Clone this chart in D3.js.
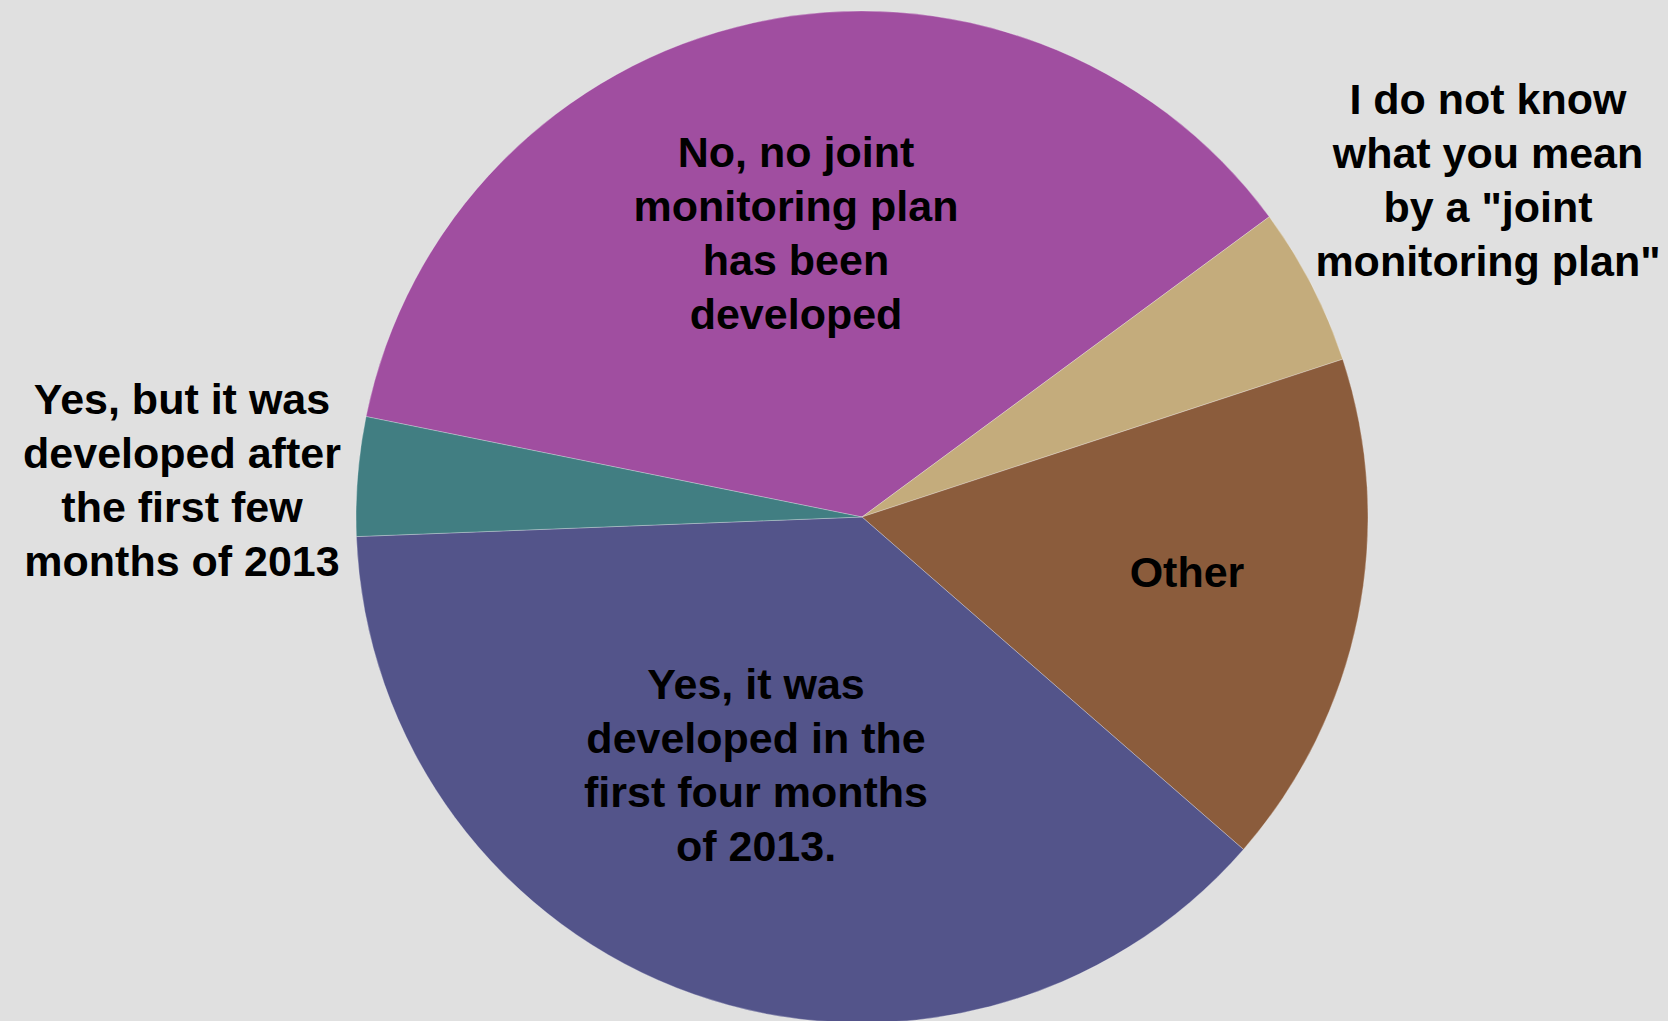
<!DOCTYPE html>
<html>
<head>
    <meta charset="utf-8">
    <style>
        body{
            margin: 0;
            background-color: #e0e0e0;
        }
        svg{
            display: block;
        }
        .labels text{
            font-family: "Liberation Sans", Arial, sans-serif;
            font-weight: bold;
            font-size: 43px;
            fill: #000;
            text-anchor: middle;
        }
    </style>
</head>
<body>
    <svg class="vis"></svg>

    <script src="https://cdnjs.cloudflare.com/ajax/libs/d3/7.8.5/d3.min.js"></script>
    <script>
        // survey answers (counts), clockwise starting from the purple slice
        var categories = [
            "No, no joint monitoring plan has been developed",
            "I do not know what you mean by a \"joint monitoring plan\"",
            "Other",
            "Yes, it was developed in the first four months of 2013.",
            "Yes, but it was developed after the first few months of 2013"
        ];
        var counts = [29, 4, 13, 30, 3];

        // label text broken into lines as in the chart
        var labelLines = [
            ["No, no joint", "monitoring plan", "has been", "developed"],
            ["I do not know", "what you mean", "by a \"joint", "monitoring plan\""],
            ["Other"],
            ["Yes, it was", "developed in the", "first four months", "of 2013."],
            ["Yes, but it was", "developed after", "the first few", "months of 2013"]
        ];

        var colors = ["#a04ea0", "#c4ac7c", "#8b5c3c", "#53548a", "#417e82"];

        // layout only: first-baseline offset of each label from the pie centre
        var labelOffset = [[-66, -350], [626, -403], [325, 70], [-106, 182], [-680, -103]];

        var width = 1668;
        var height = 1021;
        var cx = 862, cy = 517;
        var radius = 506;
        var lineH = 54;
        var startDeg = -78.55;

        var vis = d3.select("svg.vis")
            .attr("width", width)
            .attr("height", height);

        vis.append("rect")
            .attr("width", width)
            .attr("height", height)
            .attr("fill", "#e0e0e0");

        var rows = categories.map((c, i) => ({name: c, value: counts[i], idx: i}));

        var pie = d3.pie()
            .sort(null)
            .value(d => d.value)
            .startAngle(startDeg * Math.PI / 180)
            .endAngle(startDeg * Math.PI / 180 + 2 * Math.PI);

        var arc = d3.arc().innerRadius(0).outerRadius(radius);

        var g = vis.append("g").attr("transform", `translate(${cx},${cy})`);

        g.selectAll("path.slice")
            .data(pie(rows))
            .enter().append("path")
            .attr("class", "slice")
            .attr("d", arc)
            .attr("fill", d => colors[d.data.idx])
            .attr("stroke", "rgba(255,255,255,0.35)")
            .attr("stroke-width", 0.8);

        var labels = g.append("g").attr("class", "labels");

        rows.forEach(function(r, i){
            var t = labels.append("text")
                .attr("x", labelOffset[i][0])
                .attr("y", labelOffset[i][1]);
            labelLines[i].forEach(function(line, k){
                t.append("tspan")
                    .attr("x", labelOffset[i][0])
                    .attr("dy", k === 0 ? 0 : lineH)
                    .text(line);
            });
        });
    </script>
</body>
</html>
